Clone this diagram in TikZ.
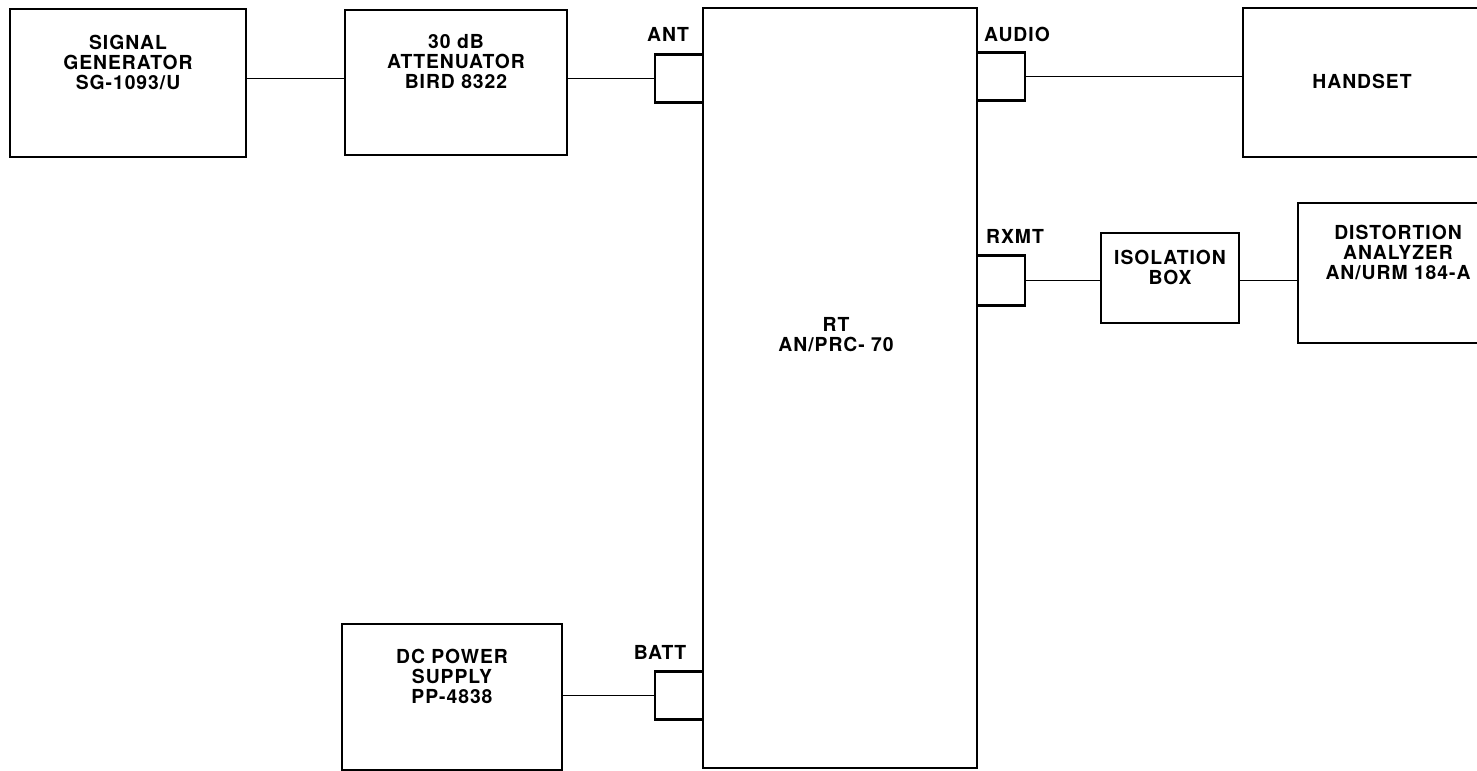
\documentclass[tikz,border=0pt]{standalone}
\usepackage{fontspec}
\setmainfont{TeX Gyre Heros}[LetterSpace=5]
\usepackage{tikz}

\tikzset{
  unit/.style={draw,line width=1.4pt,align=center,font=\fontsize{11}{11.4}\selectfont\bfseries,inner sep=0pt},
  port/.style={draw,line width=1.4pt,minimum width=.96cm,minimum height=.96cm,inner sep=0pt},
  portlabel/.style={font=\fontsize{11}{11.4}\selectfont\bfseries,inner sep=0pt},
  wire/.style={line width=1.1pt}
}

\begin{document}
\begin{tikzpicture}[every node/.append style={text height=1.6ex,text depth=.25ex}]
      \useasboundingbox (0,0) rectangle (29.54,-15.42);
      \node[unit,minimum width=4.72cm,minimum height=2.96cm] (siggen) at (2.56,-1.66) {SIGNAL\\GENERATOR\\SG-1093/U};
      \node[unit,minimum width=4.44cm,minimum height=2.90cm] (atten) at (9.12,-1.65) {30 dB\\ATTENUATOR\\BIRD 8322};
      \node[unit,minimum width=5.48cm,minimum height=15.20cm] (rt) at (16.80,-7.76) {};
      \node[portlabel,align=center] (rtname) at (16.72,-6.90) {RT\\AN/PRC- 70};
      \node[unit,minimum width=4.76cm,minimum height=2.98cm] (handset) at (27.24,-1.65) {HANDSET};
      \node[unit,minimum width=2.76cm,minimum height=1.80cm] (isobox) at (23.40,-5.56) {ISOLATION\\BOX};
      \node[unit,minimum width=4.00cm,minimum height=2.80cm] (distan) at (27.96,-5.46) {DISTORTION\\ANALYZER\\AN/URM 184-A};
      \node[unit,minimum width=4.40cm,minimum height=2.92cm] (dcps) at (9.04,-13.94) {DC POWER\\SUPPLY\\PP-4838};
      % connectors on the RT
      \node[port] (ant) at (13.58,-1.57) {};
      \node[port] (audio) at (20.02,-1.53) {};
      \node[port,minimum height=1.0cm] (rxmt) at (20.02,-5.61) {};
      \node[port] (batt) at (13.58,-13.91) {};
      \node[portlabel] (antlbl) at (13.36,-0.70) {ANT};
      \node[portlabel] (audiolbl) at (20.34,-0.70) {AUDIO};
      \node[portlabel] (rxmtlbl) at (20.30,-4.74) {RXMT};
      \node[portlabel] (battlbl) at (13.20,-13.06) {BATT};
      % cables
      \draw[wire] (siggen.east |- ant.west) -- (atten.west |- ant.west);
      \draw[wire] (atten.east |- ant.west) -- (ant.west);
      \draw[wire] (audio.east) -- (handset.west |- audio.east);
      \draw[wire] (rxmt.east) -- (isobox.west |- rxmt.east);
      \draw[wire] (isobox.east |- rxmt.east) -- (distan.west |- rxmt.east);
      \draw[wire] (dcps.east |- batt.west) -- (batt.west);
    \end{tikzpicture}
\end{document}
